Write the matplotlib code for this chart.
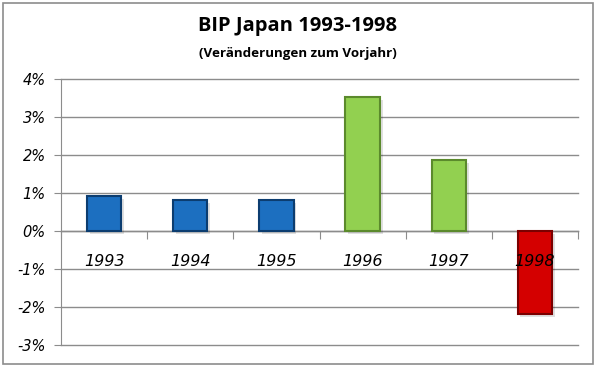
import matplotlib
matplotlib.use('Agg')
import matplotlib.pyplot as plt
import matplotlib.patches as patches
import matplotlib.patheffects as pe
import numpy as np

years = ['1993', '1994', '1995', '1996', '1997', '1998']
growth = [0.92, 0.82, 0.82, 3.52, 1.86, -2.19]
bar_colors = ['#1c6fc0', '#1c6fc0', '#1c6fc0', '#92d050', '#92d050', '#d40000']
edge_colors = ['#0c3d70', '#0c3d70', '#0c3d70', '#5b8a2c', '#5b8a2c', '#7a0000']
yticks = [-3, -2, -1, 0, 1, 2, 3, 4]

fig = plt.figure(figsize=(5.95, 3.66), dpi=100)
ax = fig.add_axes([61/595, 21/366, 517/595, 266/366])

x = np.arange(len(years))
bars = ax.bar(x, growth, width=0.4, color=bar_colors, edgecolor=edge_colors,
              linewidth=1.5, zorder=3)
for b in bars:
    b.set_path_effects([pe.SimplePatchShadow(offset=(2, -2), shadow_rgbFace='#000000', alpha=0.12),
                        pe.Normal()])

ax.set_xlim(-0.5, len(years) - 0.5)
ax.set_ylim(-3, 4)
ax.set_yticks(yticks)
ax.set_yticklabels([f'{v}%' for v in yticks], fontstyle='italic', fontsize=10.5)
ax.yaxis.grid(True, color='#8c8c8c', linewidth=1)
for gl in ax.get_ygridlines():
    gl.set_clip_on(False)
ax.set_xticks([])
for s in ['top', 'right', 'bottom']:
    ax.spines[s].set_visible(False)
ax.spines['left'].set_color('#8c8c8c')
ax.tick_params(axis='y', length=5, color='#8c8c8c', pad=6)

# category axis at zero
sec = ax.secondary_xaxis(3/7)
sec.set_xticks(np.arange(len(years) + 1) - 0.5)
sec.set_xticklabels([])
sec.tick_params(length=6, color='#8c8c8c', direction='out')
sec.spines['bottom'].set_color('#8c8c8c')
sec.spines['bottom'].set_linewidth(1)

for i, yr in enumerate(years):
    ax.text(i, -0.8, yr, ha='center', va='center', fontstyle='italic',
            fontsize=11.5, zorder=5)

fig.text(0.5, 1 - 26/366, 'BIP Japan 1993-1998', ha='center', va='center',
         fontsize=14.5, fontweight='bold', family='Open Sans')
fig.text(0.5, 1 - 53/366, '(Veränderungen zum Vorjahr)', ha='center', va='center',
         fontsize=9.6, fontweight='bold', family='Open Sans')

fig.patches.append(patches.Rectangle((2.5/595, 2.5/366), 590/595, 361/366,
                                     transform=fig.transFigure, fill=False,
                                     edgecolor='#8c8c8c', linewidth=1.2))

fig.savefig('out.png', dpi=100)
